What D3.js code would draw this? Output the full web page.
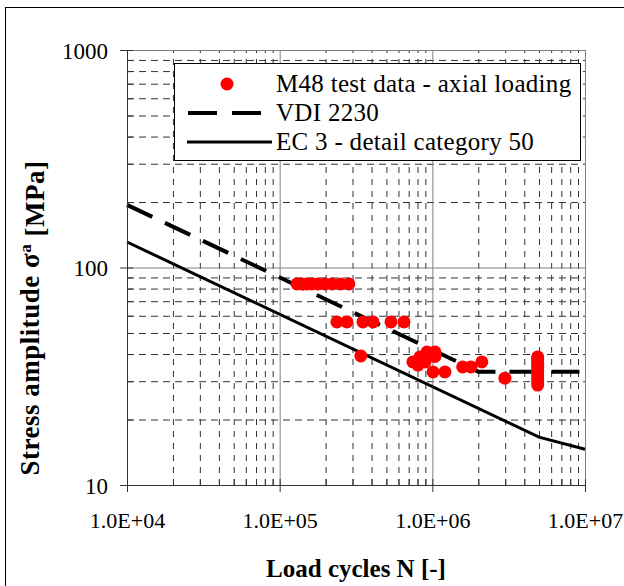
<!DOCTYPE html>
<html lang="en">
<head>
<meta charset="UTF-8">
<title>S-N curve M48</title>
<style>
  body { margin: 0; background: #fff; }
  svg text { font-family: "Liberation Serif", "Times New Roman", serif; fill: #000; }
</style>
</head>
<body>
<div id="wrapper"></div>
<script src="https://d3js.org/d3.v7.min.js"></script>
<script>
// test data (load cycles, stress amplitude MPa)
const testN = [1.30e5, 1.40e5, 1.50e5, 1.62e5, 1.78e5, 1.98e5, 2.20e5, 2.50e5, 2.84e5,
  2.37e5, 2.76e5, 3.51e5, 4.09e5, 5.36e5, 6.52e5,
  3.40e5,
  7.46e5, 8.05e5, 8.30e5, 8.55e5, 8.95e5, 9.23e5, 1.04e6, 1.04e6,
  1.01e6, 1.21e6,
  1.58e6, 1.79e6, 2.11e6,
  2.99e6,
  4.9e6, 4.9e6, 4.9e6, 4.9e6, 4.9e6, 4.9e6, 4.9e6, 4.9e6, 4.9e6, 4.9e6, 4.9e6];
const testS = [84, 84, 84, 84, 84, 84, 84, 84, 84,
  56.2, 56.2, 56.2, 56.2, 56.2, 56.2,
  39.2,
  36.8, 35.6, 38.8, 37.6, 36.8, 40.9, 40.9, 39.0,
  33.1, 33.1,
  34.9, 34.9, 36.8,
  31.0,
  28.8, 29.8, 30.8, 31.8, 32.8, 33.8, 34.8, 35.8, 36.8, 37.8, 38.8];

// VDI 2230 curve
const vdiN = [1e4, 2e6, 1e7];
const vdiS = [194, 33.2, 33.2];

// EC 3 - detail category 50
const ec3N = [1e4, 5e6, 1e7];
const ec3S = [131, 16.6, 14.6];

const xTickValues = [1e4, 1e5, 1e6, 1e7];
const xTickLabels = ["1.0E+04", "1.0E+05", "1.0E+06", "1.0E+07"];
const yTickValues = [10, 100, 1000];
const yTickLabels = ["10", "100", "1000"];

const legendLabels = ["M48 test data - axial loading", "VDI 2230", "EC 3 - detail category 50"];

const dimensions = {
  width: 624,
  height: 586,
  margin: { top: 50, right: 39, bottom: 101, left: 127 },
};
dimensions.boundedWidth = dimensions.width - dimensions.margin.left - dimensions.margin.right;
dimensions.boundedHeight = dimensions.height - dimensions.margin.top - dimensions.margin.bottom;

const svg = d3.select("#wrapper").append("svg")
  .attr("width", dimensions.width)
  .attr("height", dimensions.height);

// outer frame
svg.append("rect")
  .attr("x", 5.5).attr("y", 7.5)
  .attr("width", 660).attr("height", 600)
  .attr("fill", "none").attr("stroke", "#000").attr("stroke-width", 1);

const bounds = svg.append("g")
  .attr("transform", `translate(${dimensions.margin.left},${dimensions.margin.top})`);

const xScale = d3.scaleLog().domain([1e4, 1e7]).range([0, dimensions.boundedWidth]);
const yScale = d3.scaleLog().domain([10, 1000]).range([dimensions.boundedHeight, 0]);

// minor values 2..9 per decade
const minorX = [];
[1e4, 1e5, 1e6].forEach(d => { for (let k = 2; k <= 9; k++) minorX.push(d * k); });
const minorY = [];
[10, 100].forEach(d => { for (let k = 2; k <= 9; k++) minorY.push(d * k); });

// minor grid (dashed)
bounds.append("g")
  .call(d3.axisLeft(yScale).tickValues(minorY).tickSize(-dimensions.boundedWidth).tickFormat(""))
  .call(g => g.select(".domain").remove())
  .call(g => g.selectAll("line").attr("stroke", "#333").attr("stroke-dasharray", "7,5"));
bounds.append("g")
  .attr("transform", `translate(0,${dimensions.boundedHeight})`)
  .call(d3.axisBottom(xScale).tickValues(minorX).tickSize(-dimensions.boundedHeight).tickFormat(""))
  .call(g => g.select(".domain").remove())
  .call(g => g.selectAll("line").attr("stroke", "#333").attr("stroke-dasharray", "6,6"));

// major grid (solid gray)
bounds.append("g")
  .call(d3.axisLeft(yScale).tickValues(yTickValues).tickSize(-dimensions.boundedWidth).tickFormat(""))
  .call(g => g.select(".domain").remove())
  .call(g => g.selectAll("line").attr("stroke", "#808080"));
bounds.append("g")
  .attr("transform", `translate(0,${dimensions.boundedHeight})`)
  .call(d3.axisBottom(xScale).tickValues(xTickValues).tickSize(-dimensions.boundedHeight).tickFormat(""))
  .call(g => g.select(".domain").remove())
  .call(g => g.selectAll("line").attr("stroke", "#808080"));

// curves
const line = d3.line()
  .x(d => xScale(d[0]))
  .y(d => yScale(d[1]));

bounds.append("path")
  .attr("d", line(vdiN.map((n, i) => [n, vdiS[i]])))
  .attr("fill", "none").attr("stroke", "#000")
  .attr("stroke-width", 4).attr("stroke-dasharray", "28,14");

bounds.append("path")
  .attr("d", line(ec3N.map((n, i) => [n, ec3S[i]])))
  .attr("fill", "none").attr("stroke", "#000")
  .attr("stroke-width", 3);

// test points
bounds.append("g")
  .selectAll("circle")
  .data(testN.map((n, i) => [n, testS[i]]))
  .join("circle")
  .attr("cx", d => xScale(d[0]))
  .attr("cy", d => yScale(d[1]))
  .attr("r", 6.5)
  .attr("fill", "#ff0000");

// axes
const yAxis = bounds.append("g")
  .call(d3.axisLeft(yScale).tickValues(yTickValues).tickSize(7).tickPadding(12)
    .tickFormat((d, i) => yTickLabels[i]));
yAxis.select(".domain").attr("stroke", "#333");
yAxis.selectAll("line").attr("stroke", "#333");
yAxis.selectAll("text").style("font-size", "23px").attr("dy", "0.35em");
bounds.append("g")
  .call(d3.axisLeft(yScale).tickValues(minorY.concat(yTickValues)).tickSize(-6).tickFormat(""))
  .call(g => g.select(".domain").remove())
  .call(g => g.selectAll("line").attr("stroke", "#333"));

const xAxis = bounds.append("g")
  .attr("transform", `translate(0,${dimensions.boundedHeight})`)
  .call(d3.axisBottom(xScale).tickValues(xTickValues).tickSize(7).tickPadding(20)
    .tickFormat((d, i) => xTickLabels[i]));
xAxis.select(".domain").attr("stroke", "#333");
xAxis.selectAll("line").attr("stroke", "#333");
xAxis.selectAll("text").style("font-size", "22px");
bounds.append("g")
  .attr("transform", `translate(0,${dimensions.boundedHeight})`)
  .call(d3.axisBottom(xScale).tickValues(minorX.concat(xTickValues)).tickSize(-6).tickFormat(""))
  .call(g => g.select(".domain").remove())
  .call(g => g.selectAll("line").attr("stroke", "#333"));

// axis titles
svg.append("text")
  .attr("x", dimensions.margin.left + dimensions.boundedWidth / 2)
  .attr("y", 577)
  .attr("text-anchor", "middle")
  .style("font-size", "25px").style("font-weight", "bold")
  .text("Load cycles N [-]");

const yTitle = svg.append("text")
  .attr("transform", "translate(39,318) rotate(-90)")
  .attr("text-anchor", "middle")
  .style("font-size", "27px").style("font-weight", "bold")
  .style("letter-spacing", "0.5px");
yTitle.append("tspan").text("Stress amplitude σ");
yTitle.append("tspan").attr("dy", "-0.45em").style("font-size", "17px").text("a");
yTitle.append("tspan").attr("dy", "0.45em").text(" [MPa]");

// legend
const legend = svg.append("g");
legend.append("rect")
  .attr("x", 174.5).attr("y", 63.5)
  .attr("width", 406).attr("height", 97)
  .attr("fill", "#fff").attr("stroke", "#000");

const rowY = [84, 113, 142];
legend.append("circle").attr("cx", 227).attr("cy", rowY[0]).attr("r", 6.5).attr("fill", "#ff0000");
legend.append("line")
  .attr("x1", 188).attr("x2", 262).attr("y1", rowY[1]).attr("y2", rowY[1])
  .attr("stroke", "#000").attr("stroke-width", 4).attr("stroke-dasharray", "29,15");
legend.append("line")
  .attr("x1", 187).attr("x2", 272).attr("y1", rowY[2]).attr("y2", rowY[2])
  .attr("stroke", "#000").attr("stroke-width", 3);
legend.selectAll(".legend-label")
  .data(legendLabels)
  .join("text")
  .attr("class", "legend-label")
  .attr("x", 276)
  .attr("y", (d, i) => rowY[i] + 8)
  .style("font-size", "25px")
  .style("letter-spacing", "0.3px")
  .text(d => d);
</script>
</body>
</html>
